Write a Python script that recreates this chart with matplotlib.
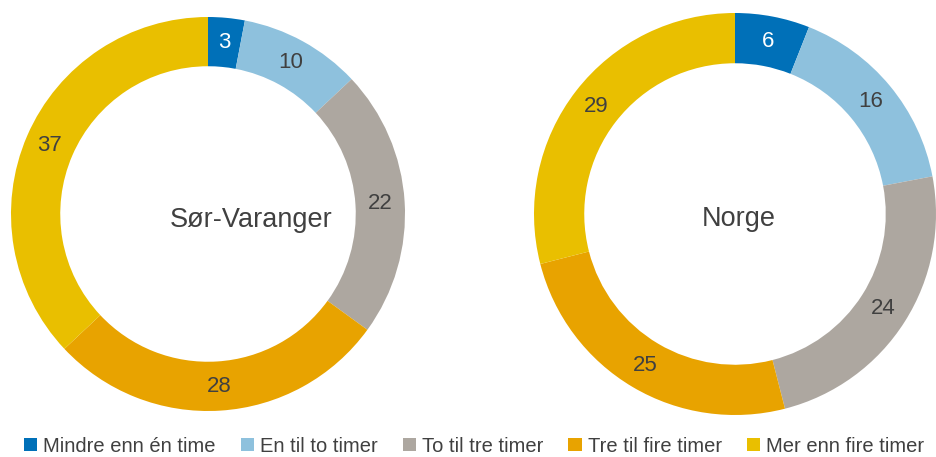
import matplotlib.pyplot as plt
from matplotlib.patches import Patch

# reisetid, andel i prosent
kategorier = ['Mindre enn én time', 'En til to timer', 'To til tre timer',
              'Tre til fire timer', 'Mer enn fire timer']
sor_varanger = [3, 10, 22, 28, 37]
norge = [6, 16, 24, 25, 29]

farger = ['#0070B8', '#8EC1DD', '#ADA7A0', '#E8A300', '#E9BF00']
tekstfarge = '#404040'

plt.rcParams['font.family'] = ['Liberation Sans', 'DejaVu Sans']

W, H = 936, 457
fig = plt.figure(figsize=(W / 100, H / 100), dpi=100)


def donut(cx, cy, r, verdier, tittel, tx, ty):
    ax = fig.add_axes([(cx - r) / W, (H - cy - r) / H, 2 * r / W, 2 * r / H])
    total = sum(verdier)
    wedges, _, tekster = ax.pie(verdier, colors=farger, startangle=90, counterclock=False,
                                radius=1, wedgeprops=dict(width=0.25, linewidth=0),
                                autopct=lambda p: f'{p * total / 100:.0f}',
                                pctdistance=0.875)
    for i, t in enumerate(tekster):
        t.set_fontsize(16)
        t.set_color('white' if i == 0 else tekstfarge)
    ax.text(tx, ty, tittel, ha='center', va='center', fontsize=19.5, color=tekstfarge)
    ax.set_xlim(-1, 1)
    ax.set_ylim(-1, 1)
    ax.set_aspect('equal')
    ax.axis('off')


donut(208, 214, 197, sor_varanger, 'Sør-Varanger', 0.22, -0.03)
donut(735, 214, 201, norge, 'Norge', 0.02, -0.025)

handles = [Patch(facecolor=c, edgecolor='none') for c in farger]
fig.legend(handles, kategorier, loc='center', bbox_to_anchor=(474 / W, (H - 446) / H),
           ncol=5, frameon=False, fontsize=14.5, labelcolor=tekstfarge,
           handlelength=0.65, handleheight=0.65, handletextpad=0.3, columnspacing=1.25,
           borderpad=0, borderaxespad=0)

fig.savefig('out.png', dpi=100)
